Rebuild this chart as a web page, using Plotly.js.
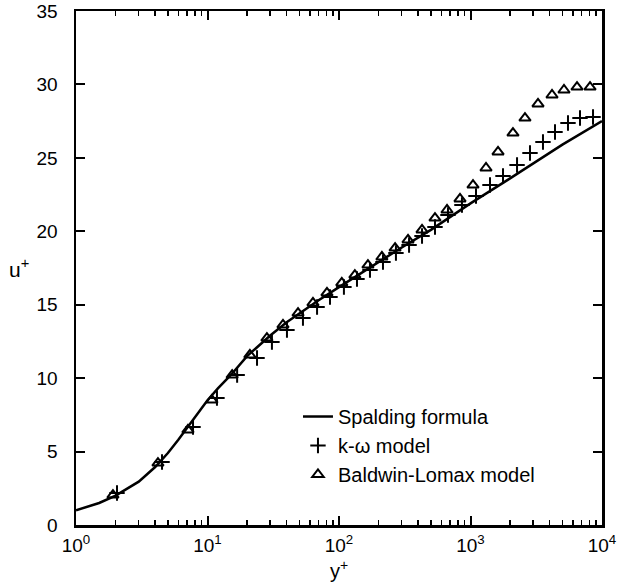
<!DOCTYPE html>
<html>
<head>
<meta charset="utf-8">
<script src="https://cdn.plot.ly/plotly-3.0.1.min.js"></script>
<style>html,body{margin:0;padding:0;background:#fff;}#chart{width:637px;height:583px;}</style>
</head>
<body>
<div id="chart"></div>
<script>
// Spalding formula curve
const spaldingY = [1, 1.5, 2, 3, 4, 5, 6, 8, 10, 12, 15, 20, 25, 30, 40, 50, 70, 100, 150, 200, 300, 500, 700, 1000, 2000, 3000, 5000, 10000];
const spaldingU = [1.0, 1.5, 2.0, 2.95, 3.95, 4.9, 5.8, 7.3, 8.5, 9.3, 10.2, 11.5, 12.3, 12.9, 13.8, 14.4, 15.3, 16.2, 17.2, 17.9, 18.9, 20.1, 21.0, 21.9, 23.6, 24.6, 25.9, 27.5];

// k-omega model
const kwY = [2.05, 4.51, 7.76, 11.8, 16.8, 23.8, 30.9, 40.2, 53.2, 68.1, 85.4, 109, 137, 172, 216, 271, 341, 428, 537, 674, 861, 1101, 1407, 1767, 2259, 2834, 3558, 4391, 5513, 6803, 8545];
const kwU = [2.18, 4.29, 6.67, 8.65, 10.21, 11.37, 12.46, 13.28, 14.10, 14.84, 15.53, 16.21, 16.75, 17.36, 17.91, 18.52, 19.07, 19.68, 20.29, 21.11, 21.79, 22.40, 23.15, 23.76, 24.51, 25.33, 26.08, 26.76, 27.37, 27.71, 27.78];

// Baldwin-Lomax model
const blY = [1.91, 4.2, 7.1, 10.8, 15.4, 21.0, 28.3, 37.5, 48.8, 63.4, 81, 105, 132, 166, 212, 267, 335, 428, 537, 663, 832, 1045, 1312, 1619, 2104, 2596, 3261, 4168, 5140, 6457, 8110];
const blU = [2.04, 4.22, 6.47, 8.51, 10.21, 11.58, 12.73, 13.62, 14.43, 15.12, 15.80, 16.48, 17.02, 17.70, 18.25, 18.86, 19.41, 20.09, 20.90, 21.45, 22.20, 23.15, 24.31, 25.40, 26.69, 27.71, 28.67, 29.28, 29.62, 29.82, 29.82];

const xTickVals = [1, 10, 100, 1000, 10000];
const xTickText = ['10<sup>0</sup>', '10<sup>1</sup>', '10<sup>2</sup>', '10<sup>3</sup>', '10<sup>4</sup>'];
const seriesNames = ['Spalding formula', 'k-ω model', 'Baldwin-Lomax model'];

const minorVals = [];
for (let d = 0; d < 4; d++) for (let k = 2; k <= 9; k++) minorVals.push(k * Math.pow(10, d));

const FONT = 'Liberation Sans, Arial, Helvetica, sans-serif';

const traces = [
  {x: spaldingY, y: spaldingU, mode: 'lines', name: seriesNames[0], line: {color: '#000', width: 2.5}},
  {x: kwY, y: kwU, mode: 'markers', name: seriesNames[1], marker: {symbol: 'cross-thin-open', size: 11, color: '#000', line: {color: '#000', width: 2}}},
  {x: blY, y: blU, mode: 'markers', name: seriesNames[2], marker: {symbol: 'triangle-up-open', size: 10, color: '#000', line: {color: '#000', width: 2}}}
];

const layout = {
  width: 637, height: 583,
  margin: {l: 76, r: 35, t: 11, b: 58, pad: 0},
  paper_bgcolor: '#fff', plot_bgcolor: '#fff',
  font: {family: FONT, color: '#000', size: 19},
  showlegend: true,
  legend: {x: 0.422, xanchor: 'left', y: 0.249, yanchor: 'top', bgcolor: 'rgba(0,0,0,0)', font: {size: 20, family: FONT}, itemwidth: 30},
  xaxis: {
    type: 'log', range: [0, 4],
    tickmode: 'array', tickvals: xTickVals, ticktext: xTickText,
    ticks: 'inside', ticklen: 9, tickwidth: 2, tickcolor: '#000',
    minor: {tickmode: 'array', tickvals: minorVals, ticks: 'inside', ticklen: 5, tickwidth: 1.5, tickcolor: '#000', showgrid: false},
    showline: true, linewidth: 2.5, linecolor: '#000', mirror: 'ticks',
    showgrid: false, zeroline: false,
    tickfont: {size: 19, family: FONT}, ticklabelstandoff: 2
  },
  yaxis: {
    range: [0, 35], dtick: 5, tick0: 0,
    ticks: 'inside', ticklen: 9, tickwidth: 2, tickcolor: '#000',
    showline: true, linewidth: 2.5, linecolor: '#000', mirror: 'ticks',
    showgrid: false, zeroline: false,
    tickfont: {size: 19, family: FONT}, ticklabelstandoff: 12
  },
  annotations: [
    {text: 'u<sup>+</sup>', xref: 'paper', yref: 'paper', x: -0.085, y: 0.5, xanchor: 'right', yanchor: 'middle', showarrow: false, font: {size: 21, family: FONT}},
    {text: 'y<sup>+</sup>', xref: 'paper', yref: 'paper', x: 0.5, y: -0.059, xanchor: 'center', yanchor: 'top', showarrow: false, font: {size: 20, family: FONT}}
  ]
};

Plotly.newPlot('chart', traces, layout, {displayModeBar: false, staticPlot: true});
</script>
</body>
</html>
